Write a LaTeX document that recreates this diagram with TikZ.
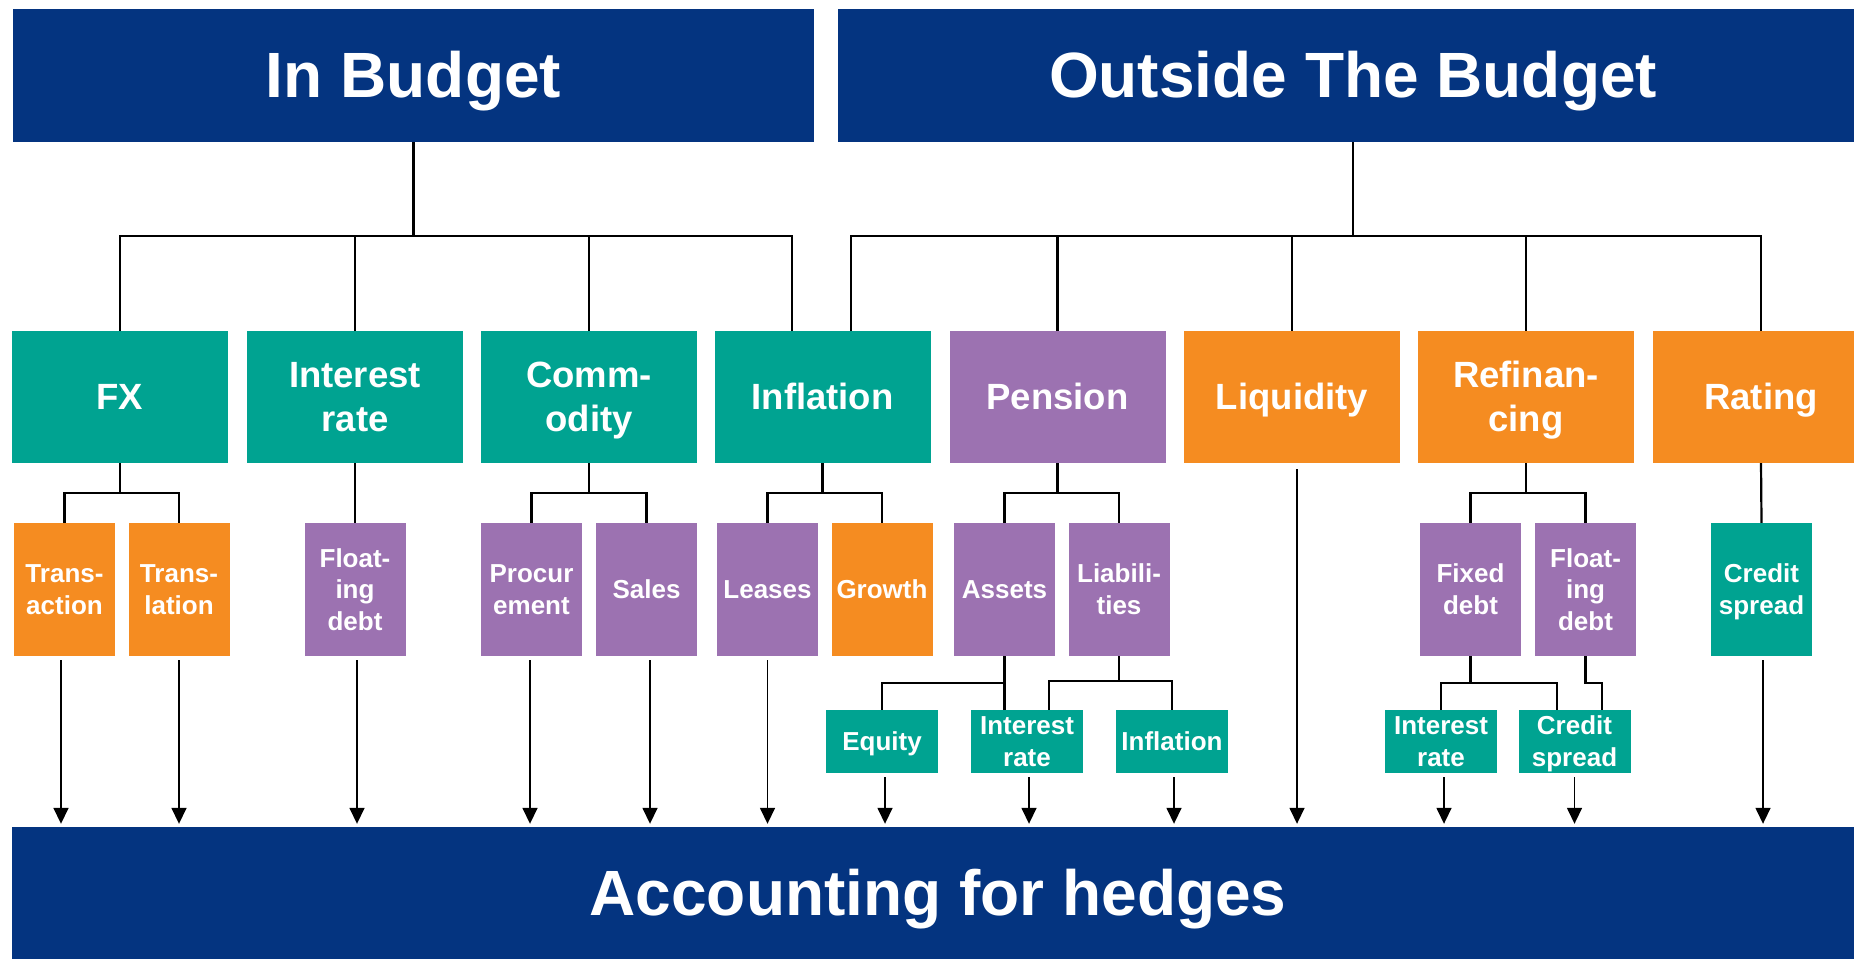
\documentclass[tikz,border=0pt]{standalone}
\usepackage{fontspec}
\setmainfont{Liberation Sans}
\usetikzlibrary{arrows.meta}
\definecolor{navy}{RGB}{4,52,128}
\definecolor{tealc}{RGB}{0,163,145}
\definecolor{purp}{RGB}{156,114,177}
\definecolor{oran}{RGB}{245,140,33}
\newcommand{\lnst}{\rule[-0.212em]{0pt}{1.117em}}
\begin{document}
\begin{tikzpicture}[x=1pt,y=-1pt,
  box/.style={draw=none, inner sep=0pt, text=white, align=center},
  title/.style={box, fill=navy, minimum height=133pt, font=\fontsize{64}{70}\selectfont\bfseries},
  lone/.style={box, minimum width=216pt, minimum height=132pt, font=\fontsize{36.5}{44}\selectfont\bfseries},
  ltwo/.style={box, minimum width=101pt, minimum height=133pt, font=\fontsize{26}{31.5}\selectfont\bfseries},
  lthree/.style={box, minimum width=112pt, minimum height=63pt, font=\fontsize{26}{31.5}\selectfont\bfseries},
  tl/.style={fill=tealc}, pu/.style={fill=purp}, or/.style={fill=oran},
  tree/.style={line width=2.2pt},
  arr/.style={line width=1.6pt, shorten <=4pt, shorten >=3pt, -{Triangle[width=15pt,length=16pt]}}
]
\useasboundingbox (0,0) rectangle (1854,958);
% titles
\node[title, minimum width=801pt] (inb) at (413.5,75.5) {\lnst In Budget};
\node[title, minimum width=1030pt] (outb) at (1353,75.5) {\lnst Outside The Budget};
\node[title, minimum width=1852pt, minimum height=132pt] (acc) at (938,893) {\lnst Accounting for hedges};
% level 1
\node[lone,tl] (fx)    at (120,397)    {\lnst FX};
\node[lone,tl] (ir)    at (355,397)    {\lnst Interest\\\lnst rate};
\node[lone,tl] (comm)  at (589,397)    {\lnst Comm-\\\lnst odity};
\node[lone,tl] (infl)  at (822.5,397)  {\lnst Inflation};
\node[lone,pu] (pens)  at (1057.5,397) {\lnst Pension};
\node[lone,or] (liq)   at (1292,397)   {\lnst Liquidity};
\node[lone,or] (refin) at (1526,397)   {\lnst Refinan-\\\lnst cing};
\node[lone,or] (rat)   at (1761,397)   {\lnst Rating};
% level 2
\node[ltwo,or] (trans)  at (64.5,589.5)   {\lnst Trans-\\\lnst action};
\node[ltwo,or] (transl) at (179,589.5)    {\lnst Trans-\\\lnst lation};
\node[ltwo,pu] (flt)    at (355,589.5)    {\lnst Float-\\\lnst ing\\\lnst debt};
\node[ltwo,pu] (proc)   at (531.5,589.5)  {\lnst Procur\\\lnst ement};
\node[ltwo,pu] (sales)  at (646.5,589.5)  {\lnst Sales};
\node[ltwo,pu] (leas)   at (767.5,589.5)  {\lnst Leases};
\node[ltwo,or] (grow)   at (882,589.5)    {\lnst Growth};
\node[ltwo,pu] (asse)   at (1004.5,589.5) {\lnst Assets};
\node[ltwo,pu] (liab)   at (1119,589.5)   {\lnst Liabili-\\\lnst ties};
\node[ltwo,pu] (fixd)   at (1470.5,589.5) {\lnst Fixed\\\lnst debt};
\node[ltwo,pu] (fltr)   at (1585.5,589.5) {\lnst Float-\\\lnst ing\\\lnst debt};
\node[ltwo,tl] (csr)    at (1761.5,589.5) {\lnst Credit\\\lnst spread};
% level 3
\node[lthree,tl] (eq)    at (882,741.5)    {\lnst Equity};
\node[lthree,tl] (irp)   at (1027,741.5)   {\lnst Interest\\\lnst rate};
\node[lthree,tl] (inflp) at (1172,741.5)   {\lnst Inflation};
\node[lthree,tl] (irr)   at (1441,741.5)   {\lnst Interest\\\lnst rate};
\node[lthree,tl] (csp)   at (1574.5,741.5) {\lnst Credit\\\lnst spread};
% tree from In Budget
\draw[tree] (inb.south) -- ++(0,94) -| (fx.north);
\draw[tree] (inb.south) -- ++(0,94) -| (ir.north);
\draw[tree] (inb.south) -- ++(0,94) -| (comm.north);
\draw[tree] (inb.south) -- ++(0,94) -| ([xshift=-30.5pt]infl.north);
% tree from Outside
\draw[tree] (outb.south) -- ++(0,94) -| ([xshift=28.5pt]infl.north);
\draw[tree] (outb.south) -- ++(0,94) -| (pens.north);
\draw[tree] (outb.south) -- ++(0,94) -| (liq.north);
\draw[tree] (outb.south) -- ++(0,94) -| (refin.north);
\draw[tree] (outb.south) -- ++(0,94) -| (rat.north);
% level 1 -> level 2
\draw[tree] (fx.south) -- ++(0,30) -| (trans.north);
\draw[tree] (fx.south) -- ++(0,30) -| (transl.north);
\draw[tree] (ir.south) -- (flt.north);
\draw[tree] (comm.south) -- ++(0,30) -| (proc.north);
\draw[tree] (comm.south) -- ++(0,30) -| (sales.north);
\draw[tree] (infl.south) -- ++(0,30) -| (leas.north);
\draw[tree] (infl.south) -- ++(0,30) -| (grow.north);
\draw[tree] (pens.south) -- ++(0,30) -| (asse.north);
\draw[tree] (pens.south) -- ++(0,30) -| (liab.north);
\draw[tree] (refin.south) -- ++(0,30) -| (fixd.north);
\draw[tree] (refin.south) -- ++(0,30) -| (fltr.north);
\draw[tree] (rat.south) -- (csr.north);
% level 2 -> level 3
\draw[tree] (asse.south) -- (asse.south |- irp.north);
\draw[tree] (asse.south) -- ++(0,27) -| (eq.north);
\draw[tree] (liab.south) -- ++(0,25) -| ([xshift=22pt]irp.north);
\draw[tree] (liab.south) -- ++(0,25) -| (inflp.north);
\draw[tree] (fixd.south) -- ++(0,27) -| (irr.north);
\draw[tree] (fixd.south) -- ++(0,27) -| ([xshift=-17.5pt]csp.north);
\draw[tree] (fltr.south) -- ++(0,27) -| ([xshift=27.5pt]csp.north);
% arrows to accounting
\draw[arr] ([xshift=-3.5pt]trans.south) -- ([xshift=-3.5pt]trans.south |- acc.north);
\draw[arr] (transl.south) -- (transl.south |- acc.north);
\draw[arr] ([xshift=2pt]flt.south) -- ([xshift=2pt]flt.south |- acc.north);
\draw[arr] ([xshift=-1.5pt]proc.south) -- ([xshift=-1.5pt]proc.south |- acc.north);
\draw[arr] ([xshift=3.5pt]sales.south) -- ([xshift=3.5pt]sales.south |- acc.north);
\draw[arr] (leas.south) -- (leas.south |- acc.north);
\draw[arr] ([xshift=3pt]eq.south) -- ([xshift=3pt]eq.south |- acc.north);
\draw[arr] ([xshift=2pt]irp.south) -- ([xshift=2pt]irp.south |- acc.north);
\draw[arr] ([xshift=2pt]inflp.south) -- ([xshift=2pt]inflp.south |- acc.north);
\draw[arr, shorten <=6pt] ([xshift=5pt]liq.south) -- ([xshift=5pt]liq.south |- acc.north);
\draw[arr] ([xshift=3pt]irr.south) -- ([xshift=3pt]irr.south |- acc.north);
\draw[arr] (csp.south) -- (csp.south |- acc.north);
\draw[arr] ([xshift=1.5pt]csr.south) -- ([xshift=1.5pt]csr.south |- acc.north);
\end{tikzpicture}
\end{document}
